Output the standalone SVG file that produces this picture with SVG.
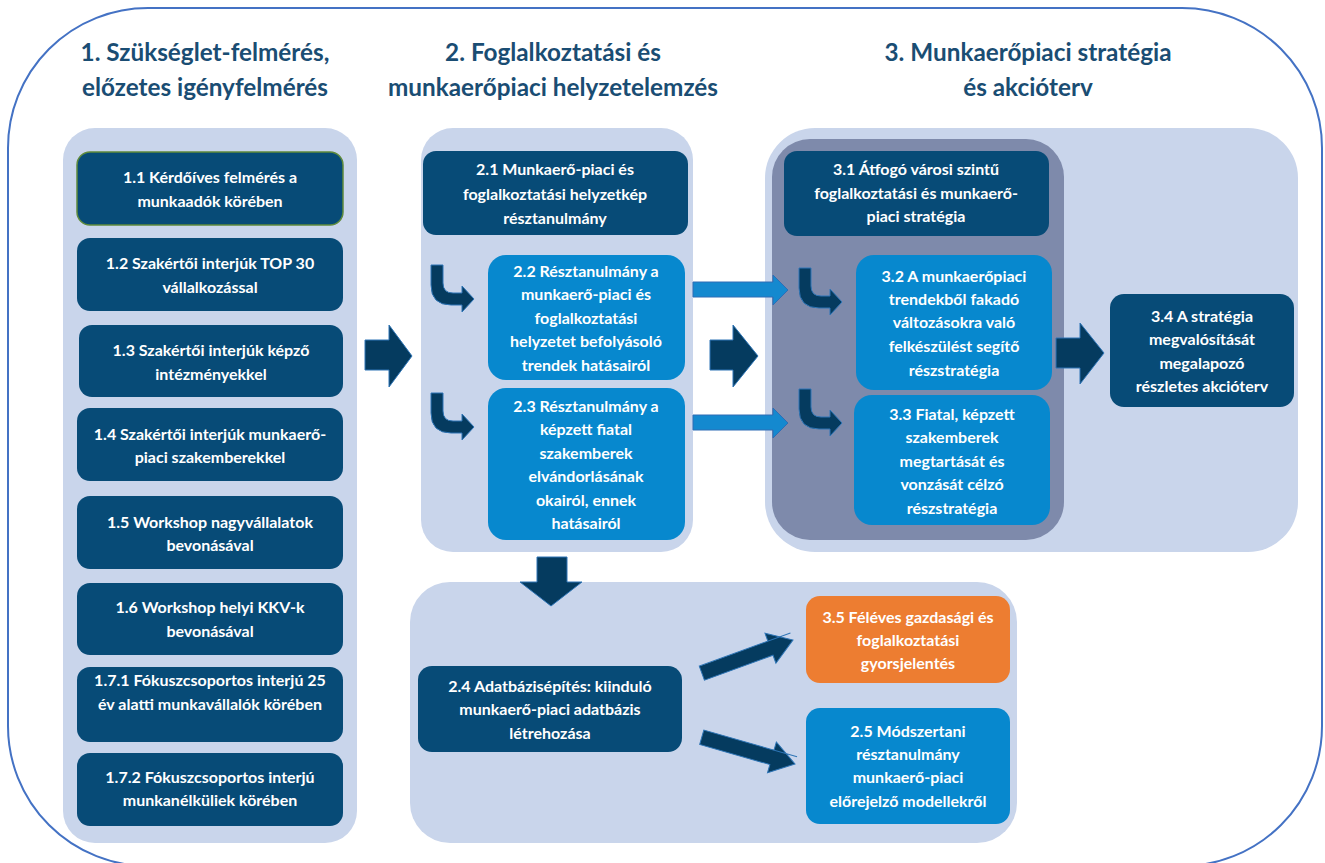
<svg xmlns="http://www.w3.org/2000/svg" width="1325" height="863" viewBox="0 0 1325 863">
<style>
.h{font-family:Lato,"Liberation Sans",sans-serif;font-weight:bold;font-size:24.3px;fill:#1A4D73;text-anchor:middle}
.t{font-family:Lato,"Liberation Sans",sans-serif;font-weight:bold;font-size:16px;fill:#ffffff;text-anchor:middle}
.panel{fill:#C9D5EB}
.dk{fill:#074B77}
.bl{fill:#0788CE}
.or{fill:#ED7D31}
.big{fill:#053B5F;stroke:#2E75B6;stroke-width:1}
.thin{fill:#1489CF;stroke:#2F6DB5;stroke-width:1}
</style>
<rect width="1325" height="863" fill="#ffffff"/>
<rect x="8" y="8" width="1314" height="858" rx="140" ry="140" fill="none" stroke="#4472C4" stroke-width="2"/>

<g id="headings">
<text class="h" x="205" y="61">1. Szükséglet-felmérés,</text>
<text class="h" x="205" y="96">előzetes igényfelmérés</text>
<text class="h" x="553" y="61">2. Foglalkoztatási és</text>
<text class="h" x="553" y="96">munkaerőpiaci helyzetelemzés</text>
<text class="h" x="1028" y="61">3. Munkaerőpiaci stratégia</text>
<text class="h" x="1028" y="96">és akcióterv</text>
</g>

<g id="panels">
<rect class="panel" x="63" y="128" width="294" height="715" rx="32"/>
<rect class="panel" x="421" y="128" width="272" height="424" rx="32"/>
<rect class="panel" x="765" y="128" width="533" height="424" rx="50"/>
<rect x="772" y="139" width="292" height="401" rx="38" fill="#7E8AAB"/>
<rect class="panel" x="410" y="582" width="607" height="261" rx="40"/>
</g>

<g id="n1_1"><rect class="dk" x="77" y="152" width="266" height="73" rx="13" stroke="#5F8B3C" stroke-width="1.5"/>
<text class="t" x="210" y="183">1.1 Kérdőíves felmérés a</text><text class="t" x="210" y="207">munkaadók körében</text></g>
<g id="n1_2"><rect class="dk" x="77" y="238" width="266" height="73" rx="13"/>
<text class="t" x="210" y="269">1.2 Szakértői interjúk TOP 30</text><text class="t" x="210" y="293">vállalkozással</text></g>
<g id="n1_3"><rect class="dk" x="79" y="325" width="264" height="72" rx="13"/>
<text class="t" x="211" y="356">1.3 Szakértői interjúk képző</text><text class="t" x="211" y="380">intézményekkel</text></g>
<g id="n1_4"><rect class="dk" x="77" y="408" width="266" height="73" rx="13"/>
<text class="t" x="210" y="440">1.4 Szakértői interjúk munkaerő-</text><text class="t" x="210" y="463">piaci szakemberekkel</text></g>
<g id="n1_5"><rect class="dk" x="77" y="496" width="266" height="73" rx="13"/>
<text class="t" x="210" y="528">1.5 Workshop nagyvállalatok</text><text class="t" x="210" y="551">bevonásával</text></g>
<g id="n1_6"><rect class="dk" x="77" y="583" width="266" height="72" rx="13"/>
<text class="t" x="210" y="613">1.6 Workshop helyi KKV-k</text><text class="t" x="210" y="637">bevonásával</text></g>
<g id="n1_7_1"><rect class="dk" x="77" y="667" width="266" height="75" rx="13"/>
<text class="t" x="210" y="686">1.7.1 Fókuszcsoportos interjú 25</text><text class="t" x="210" y="710">év alatti munkavállalók körében</text></g>
<g id="n1_7_2"><rect class="dk" x="77" y="753" width="266" height="73" rx="13"/>
<text class="t" x="210" y="783">1.7.2 Fókuszcsoportos interjú</text><text class="t" x="210" y="806">munkanélküliek körében</text></g>

<g id="n2_1"><rect class="dk" x="423" y="151" width="265" height="84" rx="13"/>
<text class="t" x="555" y="175">2.1 Munkaerő-piaci és</text><text class="t" x="555" y="200">foglalkoztatási helyzetkép</text><text class="t" x="555" y="224">résztanulmány</text></g>
<g id="n2_2"><rect class="bl" x="488" y="255" width="197" height="125" rx="18"/>
<text class="t" x="586" y="277">2.2 Résztanulmány a</text><text class="t" x="586" y="300">munkaerő-piaci és</text><text class="t" x="586" y="324">foglalkoztatási</text><text class="t" x="586" y="347">helyzetet befolyásoló</text><text class="t" x="586" y="371">trendek hatásairól</text></g>
<g id="n2_3"><rect class="bl" x="488" y="388" width="197" height="152" rx="18"/>
<text class="t" x="586" y="412">2.3 Résztanulmány a</text><text class="t" x="586" y="435">képzett fiatal</text><text class="t" x="586" y="459">szakemberek</text><text class="t" x="586" y="482">elvándorlásának</text><text class="t" x="586" y="506">okairól, ennek</text><text class="t" x="586" y="529">hatásairól</text></g>

<g id="n3_1"><rect class="dk" x="784" y="151" width="265" height="85" rx="13"/>
<text class="t" x="916" y="175">3.1 Átfogó városi szintű</text><text class="t" x="916" y="199">foglalkoztatási és munkaerő-</text><text class="t" x="916" y="222">piaci stratégia</text></g>
<g id="n3_2"><rect class="bl" x="856" y="255" width="196" height="135" rx="18"/>
<text class="t" x="954" y="282">3.2 A munkaerőpiaci</text><text class="t" x="954" y="305">trendekből fakadó</text><text class="t" x="954" y="328">változásokra való</text><text class="t" x="954" y="352">felkészülést segítő</text><text class="t" x="954" y="376">részstratégia</text></g>
<g id="n3_3"><rect class="bl" x="854" y="395" width="196" height="130" rx="18"/>
<text class="t" x="952" y="420">3.3 Fiatal, képzett</text><text class="t" x="952" y="443">szakemberek</text><text class="t" x="952" y="467">megtartását és</text><text class="t" x="952" y="490">vonzását célzó</text><text class="t" x="952" y="514">részstratégia</text></g>
<g id="n3_4"><rect class="dk" x="1110" y="294" width="184" height="113" rx="14"/>
<text class="t" x="1202" y="322">3.4 A stratégia</text><text class="t" x="1202" y="345">megvalósítását</text><text class="t" x="1202" y="369">megalapozó</text><text class="t" x="1202" y="392">részletes akcióterv</text></g>

<g id="n2_4"><rect class="dk" x="418" y="666" width="264" height="86" rx="14"/>
<text class="t" x="550" y="692">2.4 Adatbázisépítés: kiinduló</text><text class="t" x="550" y="715">munkaerő-piaci adatbázis</text><text class="t" x="550" y="739">létrehozása</text></g>
<g id="n3_5"><rect class="or" x="806" y="596" width="204" height="87" rx="14"/>
<text class="t" x="908" y="623">3.5 Féléves gazdasági és</text><text class="t" x="908" y="646">foglalkoztatási</text><text class="t" x="908" y="669">gyorsjelentés</text></g>
<g id="n2_5"><rect class="bl" x="806" y="708" width="204" height="116" rx="14"/>
<text class="t" x="908" y="737">2.5 Módszertani</text><text class="t" x="908" y="760">résztanulmány</text><text class="t" x="908" y="783">munkaerő-piaci</text><text class="t" x="908" y="807">előrejelző modellekről</text></g>

<g id="connectors">
<defs>
<path id="hook" d="M0 0 H12 V18 Q12 28 22 28 H31 V21 L43 34 L31 47 V40 H20 Q0 40 0 20 Z"/>
<path id="diag" d="M0 -7.5 H-24 V-16 L0 0 L-24 16 V7.5 H-97 V-7.5 Z"/>
</defs>
<use href="#hook" class="big" x="431" y="265"/>
<use href="#hook" class="big" x="431" y="393"/>
<use href="#hook" class="big" x="799" y="268"/>
<use href="#hook" class="big" x="799" y="389"/>
<polygon class="big" points="365,340 389,340 389,325 412,356 389,387 389,370 365,370"/>
<polygon class="big" points="710,340 733,340 733,325 758,356 733,387 733,370 710,370"/>
<polygon class="big" points="1056,338 1080,338 1080,323 1104,353 1080,384 1080,368 1056,368"/>
<polygon class="thin" points="693,282 773,282 773,275 788,290 773,305 773,297 693,297"/>
<polygon class="thin" points="693,415 773,415 773,408 788,423 773,438 773,430 693,430"/>
<polygon class="big" points="537,557 567,557 567,582 582,582 551,606 520,582 537,582"/>
<use href="#diag" class="big" transform="translate(793,640) rotate(-20)"/>
<use href="#diag" class="big" transform="translate(795,764) rotate(16)"/>
</g>
</svg>
